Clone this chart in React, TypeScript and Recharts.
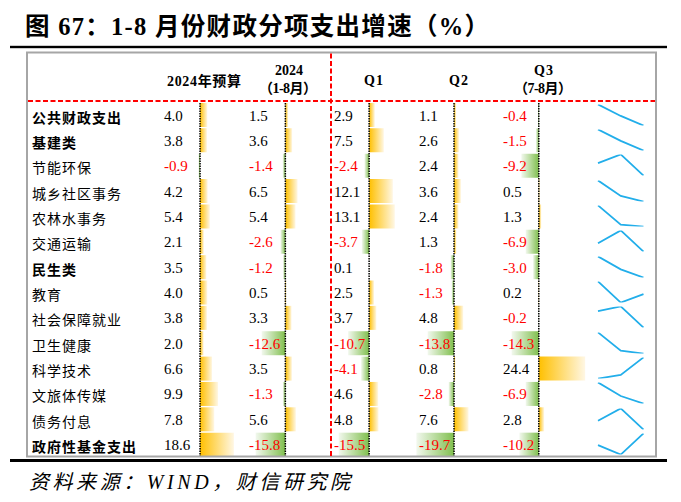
import React from 'react';
import { BarChart, Bar, XAxis, YAxis, Cell, ReferenceLine, LineChart, Line } from 'recharts';

// ---------------- data ----------------
const categories = ['公共财政支出', '基建类', '节能环保', '城乡社区事务', '农林水事务', '交通运输', '民生类', '教育', '社会保障就业', '卫生健康', '科学技术', '文旅体传媒', '债务付息', '政府性基金支出'];
const boldCategories = ['公共财政支出', '基建类', '民生类', '政府性基金支出'];
const budget2024 = [4.0, 3.8, -0.9, 4.2, 5.4, 2.1, 3.5, 4.0, 3.8, 2.0, 6.6, 9.9, 7.8, 18.6];
const ytd2024 = [1.5, 3.6, -1.4, 6.5, 5.4, -2.6, -1.2, 0.5, 3.3, -12.6, 3.5, -1.3, 5.6, -15.8];
const q1Growth = [2.9, 7.5, -2.4, 12.1, 13.1, -3.7, 0.1, 2.5, 3.7, -10.7, -4.1, 4.6, 4.8, -15.5];
const q2Growth = [1.1, 2.6, 2.4, 3.6, 2.4, 1.3, -1.8, -1.3, 4.8, -13.8, 0.8, -2.8, 7.6, -19.7];
const q3Growth = [-0.4, -1.5, -9.2, 0.5, 1.3, -6.9, -3.0, 0.2, -0.2, -14.3, 24.4, -6.9, 2.8, -10.2];
const sparkPeriods = ['Q1', 'Q2', 'Q3'];
const titleText = '图 67：1-8 月份财政分项支出增速（%）';
const sourceText = '资料来源：WIND，财信研究院';

// ---------------- layout ----------------
const BODY_TOP = 101.5;
const ROW_H = 25.36;
const BODY_H = ROW_H * categories.length;
const NEG = 22;
const POS = 26;
const seriesList = [budget2024, ytd2024, q1Growth, q2Growth, q3Growth];
const columnLayout = [
  { axisX: 200, scale: 1.82, textX: 164 },
  { axisX: 285, scale: 1.88, textX: 249 },
  { axisX: 369.5, scale: 1.96, textX: 334 },
  { axisX: 454.5, scale: 1.91, textX: 419 },
  { axisX: 539, scale: 1.9, textX: 503 },
];
const headerLayout = [
  { text: '2024年预算', x: 167, y: 86, w: 74 },
  { text: '2024', x: 275, y: 75, w: 28 },
  { text: '（1-8月）', x: 259, y: 93, w: 58 },
  { text: 'Q1', x: 364, y: 84.5, w: 19 },
  { text: 'Q2', x: 449, y: 84.5, w: 19 },
  { text: 'Q3', x: 534, y: 75, w: 19 },
  { text: '（7-8月）', x: 514, y: 93, w: 58 },
];

const SERIF = "'Liberation Serif', 'Noto Sans CJK SC', serif";
const CJK = "'Noto Sans CJK SC', sans-serif";

function DataBars({ id, values, axisX, scale }: { id: string; values: number[]; axisX: number; scale: number }) {
  const width = (NEG + POS) * scale;
  const data = categories.map((name, i) => ({ name, v: values[i] }));
  return (
    <div style={{ position: 'absolute', left: axisX - NEG * scale, top: BODY_TOP }}>
      <BarChart width={width} height={BODY_H} data={data} layout="vertical" margin={{ top: 0, right: 0, bottom: 0, left: 0 }} barSize={24}>
        <defs>
          <linearGradient id={`pos-${id}`} x1="0" y1="0" x2="1" y2="0">
            <stop offset="0" stopColor="#FFC000" />
            <stop offset="1" stopColor="#FFF7E4" />
          </linearGradient>
          <linearGradient id={`neg-${id}`} x1="0" y1="0" x2="1" y2="0">
            <stop offset="0" stopColor="#F2F8EE" />
            <stop offset="1" stopColor="#80BF4E" />
          </linearGradient>
        </defs>
        <XAxis type="number" domain={[-NEG, POS]} hide allowDataOverflow />
        <YAxis type="category" dataKey="name" hide />
        <Bar dataKey="v" isAnimationActive={false}>
          {data.map((d, i) => (
            <Cell key={i} fill={d.v >= 0 ? `url(#pos-${id})` : `url(#neg-${id})`} />
          ))}
        </Bar>
        <ReferenceLine x={0} stroke="#000" strokeWidth={1.5} strokeDasharray="1.5 1" />
      </BarChart>
    </div>
  );
}

function Sparkline({ values, top }: { values: number[]; top: number }) {
  const data = sparkPeriods.map((p, j) => ({ p, v: values[j] }));
  const lo = Math.min(...values);
  const hi = Math.max(...values);
  return (
    <div style={{ position: 'absolute', left: 597, top }}>
      <LineChart width={48} height={ROW_H} data={data} margin={{ top: 2.4, right: 1.5, bottom: 1.8, left: 1 }}>
        <XAxis dataKey="p" hide />
        <YAxis hide domain={[lo, hi]} allowDataOverflow />
        <Line type="linear" dataKey="v" stroke="#22AEEA" strokeWidth={1.8} dot={false} isAnimationActive={false} />
      </LineChart>
    </div>
  );
}

export default function App() {
  const rowTop = (i: number) => BODY_TOP + i * ROW_H;
  return (
    <div style={{ position: 'absolute', left: 0, top: 0, width: 681, height: 502, background: '#fff', overflow: 'hidden' }}>
      {seriesList.map((vals, c) => (
        <DataBars key={c} id={`c${c}`} values={vals} axisX={columnLayout[c].axisX} scale={columnLayout[c].scale} />
      ))}
      {categories.map((_, i) => (
        <Sparkline key={i} values={[q1Growth[i], q2Growth[i], q3Growth[i]]} top={rowTop(i)} />
      ))}
      <svg width={681} height={502} style={{ position: 'absolute', left: 0, top: 0, pointerEvents: 'none' }}>
        <text x={25} y={35} fontFamily={SERIF} fontWeight="bold" fontSize={24.5} textLength={464} lengthAdjust="spacing" fill="#000">
          {titleText}
        </text>
        <rect x={10} y={45.8} width={657} height={2.4} fill="#000" />
        <rect x={27} y={52.5} width={629} height={404} fill="none" stroke="#A6A6A6" strokeWidth={2} />
        <line x1={28} x2={655} y1={101} y2={101} stroke="#FF0000" strokeWidth={2} strokeDasharray="5 2.5" />
        <line x1={331} x2={331} y1={53.5} y2={456} stroke="#FF0000" strokeWidth={2} strokeDasharray="5 2.5" />
        <rect x={10} y={459} width={657} height={3} fill="#000" />
        {headerLayout.map((h, i) => (
          <text key={i} x={h.x} y={h.y} fontFamily={SERIF} fontWeight="bold" fontSize={14} textLength={h.w} lengthAdjust="spacing" fill="#000">
            {h.text}
          </text>
        ))}
        {categories.map((name, i) => (
          <text key={name} x={32} y={rowTop(i) + 21} fontFamily={CJK} fontSize={14} letterSpacing={1} fontWeight={boldCategories.includes(name) ? 'bold' : 'normal'} fill="#000">
            {name}
          </text>
        ))}
        {seriesList.map((vals, c) =>
          vals.map((v, i) => (
            <text key={`${c}-${i}`} x={columnLayout[c].textX} y={rowTop(i) + 19} fontFamily={SERIF} fontSize={15} fill={v < 0 ? '#FF0000' : '#000'}>
              {v.toFixed(1)}
            </text>
          ))
        )}
        <text x={29} y={489} fontFamily={SERIF} fontStyle="italic" fontSize={20} textLength={321} lengthAdjust="spacing" fill="#000">
          {sourceText}
        </text>
      </svg>
    </div>
  );
}
